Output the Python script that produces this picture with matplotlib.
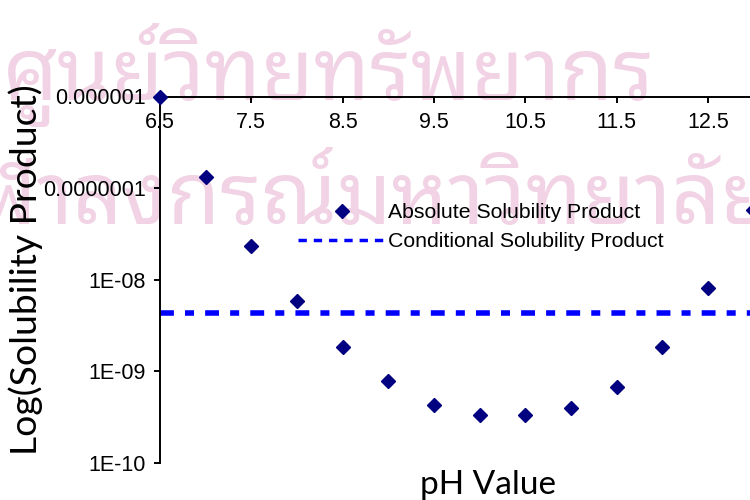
import matplotlib
matplotlib.use('Agg')
import matplotlib.pyplot as plt
from matplotlib.lines import Line2D
from matplotlib import font_manager as fm
from matplotlib.ft2font import FT2Font

# ---------------- data ----------------
ph = [6.5, 7.0, 7.5, 8.0, 8.5, 9.0, 9.5, 10.0, 10.5, 11.0, 11.5, 12.0, 12.5, 13.0]
abs_ksp = [1.0e-6, 1.32e-7, 2.33e-8, 5.85e-9, 1.84e-9, 7.83e-10, 4.29e-10,
           3.33e-10, 3.33e-10, 3.98e-10, 6.75e-10, 1.84e-9, 8.1e-9, 5.77e-8]
cond_ksp = 4.33e-9

xtick_vals = [6.5, 7.5, 8.5, 9.5, 10.5, 11.5, 12.5]
xtick_labels = ['6.5', '7.5', '8.5', '9.5', '10.5', '11.5', '12.5']
ytick_vals = [1e-10, 1e-9, 1e-8, 1e-7, 1e-6]
ytick_labels = ['1E-10', '1E-09', '1E-08', '0.0000001', '0.000001']

series_labels = ['Absolute Solubility Product', 'Conditional Solubility Product']
xlabel = 'pH Value'
ylabel = 'Log(Solubility Product)'
watermark_lines = ['ศูนย์วิทยทรัพยากร', 'จุฬาลงกรณ์มหาวิทยาลัย']

# ---------------- style ----------------
plt.rcParams['font.family'] = ['Liberation Sans', 'DejaVu Sans']
plt.rcParams['lines.scale_dashes'] = False

W, H = 750, 500
fig = plt.figure(figsize=(7.5, 5), dpi=100)


def find_thai_font():
    need = set(''.join(watermark_lines))
    good, fallback = [], []
    for path in fm.findSystemFonts():
        try:
            cmap = FT2Font(path).get_charmap()
        except Exception:
            continue
        if all(ord(c) in cmap for c in need):
            low = path.lower()
            if 'unifont' in low or low.endswith(('.pcf', '.pcf.gz', '.bdf')):
                fallback.append(path)
            else:
                good.append(path)
    pref = ['notosansthai', 'notosans-', 'loma', 'garuda', 'waree', 'sawasdee',
            'umpush', 'laksaman', 'norasi', 'kinnari']
    for p in pref:
        for g in good:
            if p in g.lower().replace(' ', ''):
                return g
    if good:
        return sorted(good)[0]
    return fallback[0] if fallback else None


thai = find_thai_font()
if thai:
    fp = fm.FontProperties(fname=thai, size=62)
    fig.text(3 / W, 1 - 100 / H, watermark_lines[0], fontproperties=fp,
             color='#f1d3e5', ha='left', va='baseline', zorder=0)
    fig.text(352 / W, 1 - 224 / H, watermark_lines[1], fontproperties=fp,
             color='#f1d3e5', ha='center', va='baseline', zorder=0)

# axes: 6.5 at x=160px, 91.3 px per pH unit; 1e-6 at y=96.5, 1e-10 at y=463
left_px, top_px, bot_px = 160, 96.5, 463
xmin, xmax = 6.5, 13.5
ppu = 91.3
ax = fig.add_axes([left_px / W, 1 - bot_px / H,
                   (xmax - xmin) * ppu / W, (bot_px - top_px) / H])
ax.patch.set_alpha(0)
ax.set_zorder(2)

ax.set_yscale('log')
ax.set_xlim(xmin, xmax)
ax.set_ylim(1e-10, 1e-6)

ax.axhline(cond_ksp, color='#0000ff', lw=4.0, dashes=(10, 8, 6.5, 8),
           solid_capstyle='butt', dash_capstyle='butt', zorder=2)
ax.plot(ph, abs_ksp, linestyle='none', marker='D', markersize=7.6,
        color='#000080', clip_on=False, zorder=3)

# spines
ax.spines['top'].set_visible(False)
ax.spines['right'].set_visible(False)
ax.spines['bottom'].set_position(('axes', 1.0))
for s in ('left', 'bottom'):
    ax.spines[s].set_linewidth(1.4)

ax.set_xticks(xtick_vals)
ax.set_xticklabels(xtick_labels)
ax.set_yticks(ytick_vals)
ax.set_yticklabels(ytick_labels)
ax.yaxis.set_minor_locator(matplotlib.ticker.NullLocator())
ax.tick_params(axis='x', direction='out', length=4, width=1.4, pad=7,
               labelsize=15.5, bottom=True, top=False)
ax.tick_params(axis='y', direction='out', length=4, width=1.4, pad=6,
               labelsize=15.5)

# legend (frameless)
handles = [Line2D([], [], linestyle='none', marker='D', markersize=7.6, color='#000080'),
           Line2D([], [], color='#0000ff', lw=2.5, dashes=(6, 5))]
fig.legend(handles, series_labels, loc='upper left',
           bbox_to_anchor=(298 / W, 1 - 203 / H), frameon=False,
           fontsize=15.3, handlelength=4.1, handletextpad=0.15,
           borderpad=0, borderaxespad=0, labelspacing=0.48)

# axis titles (Calibri-like)
fig.text(488 / W, 1 - 485 / H, xlabel, family=['Lato', 'DejaVu Sans'],
         fontsize=24, ha='center', va='center')
fig.text(26 / W, 1 - 270 / H, ylabel, family=['Lato', 'DejaVu Sans'],
         fontsize=26.8, ha='center', va='center', rotation=90)

fig.savefig('out.png', dpi=100)
